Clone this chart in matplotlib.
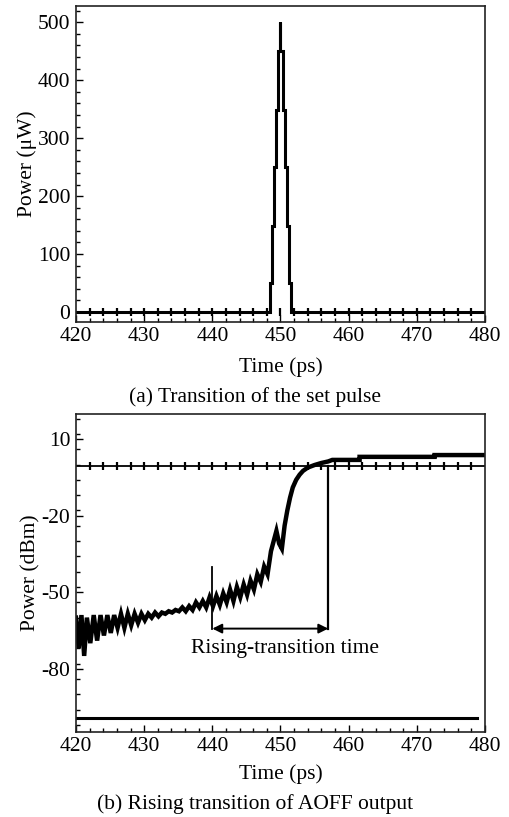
import matplotlib
matplotlib.use("Agg")
import matplotlib.pyplot as plt
from matplotlib.ticker import MultipleLocator

plt.rcParams['font.family'] = ['Liberation Serif', 'DejaVu Serif']
plt.rcParams['font.size'] = 15.5
plt.rcParams['axes.unicode_minus'] = False

# ---- data: panel (a) set pulse (stepwise) ----
pulse_t = [420, 448.45, 448.45, 448.8, 448.8, 449.1, 449.1, 449.3, 449.3, 449.7, 449.7,
           450.0, 450.0, 450.0, 450.0, 450.4, 450.4, 450.6, 450.6, 450.9, 450.9, 451.3, 451.3,
           451.5, 451.5, 480]
pulse_p = [0, 0, 50, 50, 148, 148, 250, 250, 348, 348, 450,
           450, 500, 500, 450, 450, 348, 348, 250, 250, 148, 148, 50,
           50, 0, 0]
marker_t = list(range(422, 480, 2))

# ---- data: panel (b) AOFF output ----
out_t = [420.0, 420.4, 420.8, 421.2, 421.6, 422.1, 422.6, 423.1, 423.6, 424.1, 424.6,
         425.1, 425.6, 426.1, 426.6, 427.1, 427.6, 428.1, 428.6, 429.1, 429.6, 430.1,
         430.6, 431.1, 431.6, 432.1, 432.6, 433.1, 433.6, 434.1, 434.6, 435.1, 435.6,
         436.1, 436.6, 437.1, 437.6, 438.1, 438.6, 439.1, 439.6, 440.1, 440.6, 441.1,
         441.6, 442.1, 442.6, 443.1, 443.6, 444.1, 444.6, 445.1, 445.6, 446.1, 446.6,
         447.1, 447.6, 448.1, 448.6, 449.0, 449.4, 449.8, 450.2, 450.6, 451.0, 451.4,
         451.8, 452.3, 452.8, 453.3, 454.0, 455.0, 456.0, 457.0, 457.6, 461.6, 461.6,
         472.6, 472.6, 480.0]
out_p = [-60, -72, -59, -75, -60, -70, -59, -69, -59, -67, -59,
         -66, -59, -64, -58.5, -64, -58.5, -63, -58.5, -62, -58.5, -61,
         -58.5, -60, -58, -59.5, -58, -58.5, -57.5, -58, -57, -57.5, -56,
         -57.5, -55.5, -57, -54, -56, -53.5, -56, -52, -55.5, -51.5, -55,
         -50.5, -54, -49, -53.5, -48, -52, -47, -51, -45.5, -49, -43,
         -46, -40, -43, -34, -30, -26, -31, -33, -24, -18, -13,
         -9, -6, -4, -2.5, -1.2, -0.2, 0.6, 1.2, 1.8, 1.8, 3.0,
         3.0, 3.7, 3.7]
ref_level = -0.4
floor_level = -99.4
floor_t = [420, 478.8]
t_start, t_end = 440, 457
arrow_level = -64.3

fig = plt.figure(figsize=(5.10, 8.17), dpi=100)

def style(ax):
    ax.set_xlim(420, 480)
    ax.xaxis.set_major_locator(MultipleLocator(10))
    ax.xaxis.set_minor_locator(MultipleLocator(2))
    ax.tick_params(which='both', direction='in', top=False, right=False, width=1.0)
    ax.tick_params(which='major', length=5, pad=4)
    ax.tick_params(which='minor', length=3)
    for s in ax.spines.values():
        s.set_linewidth(1.2)
        s.set_color('#222222')

# ---- panel (a) ----
ax1 = fig.add_axes([0.149, 0.606, 0.802, 0.3867])
style(ax1)
ax1.set_ylim(-17, 528)
ax1.yaxis.set_major_locator(MultipleLocator(100))
ax1.yaxis.set_minor_locator(MultipleLocator(20))
ax1.plot(pulse_t, pulse_p, color='black', lw=2.2, solid_joinstyle='miter')
ax1.plot(marker_t, [0] * len(marker_t), ls='none', marker='|', ms=6, mew=1.6, color='black')
ax1.set_xlabel('Time (ps)', va='center')
ax1.xaxis.set_label_coords(0.5, -0.142)
ax1.set_ylabel('Power (\u03bcW)', labelpad=1)
fig.text(0.5, 1 - 397 / 817, '(a) Transition of the set pulse', ha='center', va='center')

# ---- panel (b) ----
ax2 = fig.add_axes([0.149, 0.1044, 0.802, 0.3889])
style(ax2)
ax2.set_ylim(-104.7, 19.8)
ax2.yaxis.set_minor_locator(MultipleLocator(6))
ax2.set_yticks([10, -20, -50, -80])
ax2.axhline(ref_level, color='black', lw=1.3)
ax2.plot(marker_t, [ref_level] * len(marker_t), ls='none', marker='|', ms=6, mew=1.6, color='black')
ax2.plot(floor_t, [floor_level] * 2, color='black', lw=2.2)
ax2.plot(out_t, out_p, color='black', lw=3.2, solid_joinstyle='miter')
ax2.plot([t_start, t_start], [-40, arrow_level], color='black', lw=1.3)
ax2.plot([t_end, t_end], [ref_level, arrow_level], color='black', lw=1.6)
ax2.annotate('', xy=(t_start, arrow_level), xytext=(t_end, arrow_level),
             arrowprops=dict(arrowstyle='<|-|>', color='black', lw=1.4,
                             mutation_scale=14, shrinkA=0, shrinkB=0))
ax2.text(450.6, -72, 'Rising-transition time', ha='center', va='center')
ax2.set_xlabel('Time (ps)', va='center')
ax2.xaxis.set_label_coords(0.5, -0.133)
ax2.set_ylabel('Power (dBm)', labelpad=1)
fig.text(0.5, 1 - 804 / 817, '(b) Rising transition of AOFF output', ha='center', va='center')

fig.savefig('out.png', dpi=100)
